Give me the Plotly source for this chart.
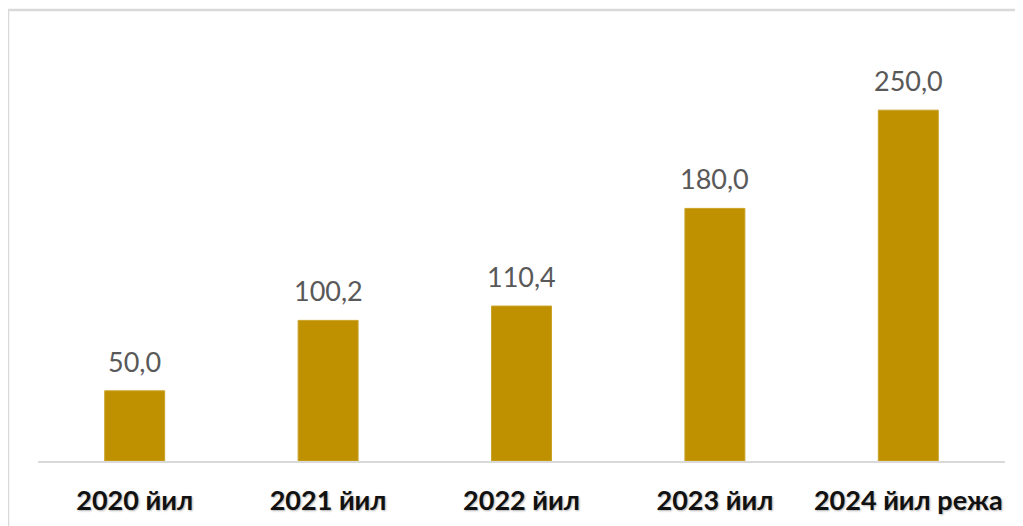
import plotly.graph_objects as go

categories = ["2020 йил", "2021 йил", "2022 йил", "2023 йил", "2024 йил режа"]
values = [50.0, 100.2, 110.4, 180.0, 250.0]
value_labels = [f"{v:.1f}".replace(".", ",") for v in values]

W, H = 1023, 526
ml, mr, mt, mb = 30, 26, 32, 73

fig = go.Figure()
fig.add_trace(go.Bar(
    x=categories, y=values,
    marker=dict(color="#BF9000", line=dict(color="#C9A227", width=1)),
    width=0.31,
    hoverinfo="skip",
))

for c, v, t in zip(categories, values, value_labels):
    fig.add_annotation(x=c, y=v, text=t, showarrow=False, yanchor="bottom",
                       yshift=11, font=dict(family="Lato", size=27, color="#595959"))

pw = W - ml - mr
ph = H - mt - mb
fig.add_shape(type="rect", xref="paper", yref="paper",
              x0=(0 - ml) / pw, x1=(1040 - ml) / pw,
              y0=-(560 - mt - ph) / ph, y1=1 + (mt - 2) / ph,
              line=dict(color="#D9D9D9", width=2.5), layer="below")

fig.update_layout(
    width=W, height=H,
    margin=dict(l=ml, r=mr, t=mt, b=mb),
    paper_bgcolor="white", plot_bgcolor="white",
    showlegend=False,
    xaxis=dict(showline=True, linecolor="#D9D9D9", linewidth=2, ticks="",
               ticklabelstandoff=15,
               tickfont=dict(family="Lato", size=27, color="#111111",
                             weight="bold", shadow="1px 1px 2px rgba(0,0,0,0.3)"),
               showgrid=False, zeroline=False),
    yaxis=dict(range=[0, 300], visible=False, showgrid=False, zeroline=False),
)

fig.write_html("out.html")
